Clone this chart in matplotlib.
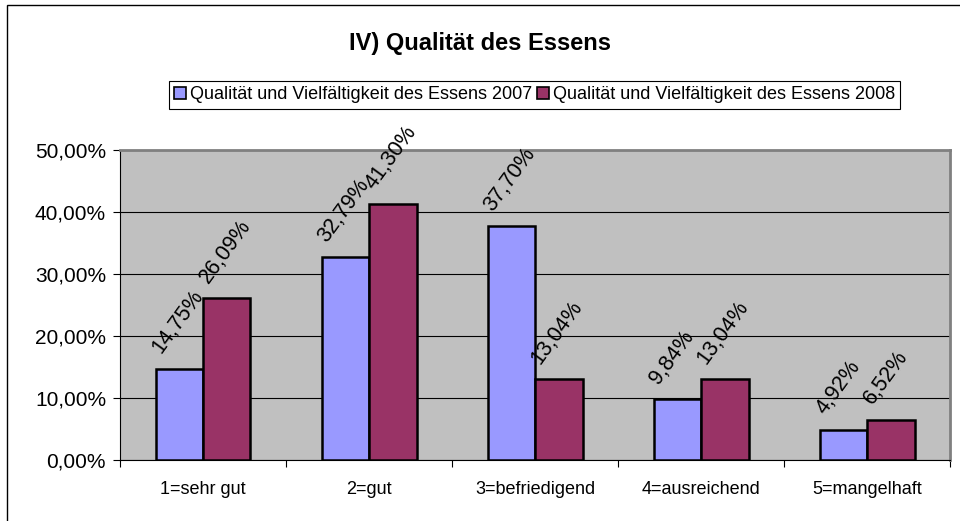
import numpy as np
import matplotlib
matplotlib.use("Agg")
import matplotlib.pyplot as plt
from matplotlib.patches import Rectangle

plt.rcParams['font.family'] = ['Liberation Sans', 'DejaVu Sans']

categories = ["1=sehr gut", "2=gut", "3=befriedigend", "4=ausreichend", "5=mangelhaft"]
werte_2007 = [14.75, 32.79, 37.70, 9.84, 4.92]
werte_2008 = [26.09, 41.30, 13.04, 13.04, 6.52]
serien = ["Qualität und Vielfältigkeit des Essens 2007",
          "Qualität und Vielfältigkeit des Essens 2008"]
farben = ["#9999FF", "#993366"]

fig = plt.figure(figsize=(9.6, 5.21), dpi=100)
# chart frame, cut off at right and bottom like the screenshot
fig.patches.append(Rectangle((0.0073, -0.05), 1.2, 1.0404, transform=fig.transFigure,
                             fill=False, edgecolor="black", linewidth=1))
ax = fig.add_axes([0.125, 0.117, 0.865, 0.595])
ax.set_facecolor("#C0C0C0")

x = np.arange(len(categories))
w = 1 / 3.5
b1 = ax.bar(x - w / 2, werte_2007, w, color=farben[0], edgecolor="black", linewidth=1.8,
            label=serien[0], zorder=3)
b2 = ax.bar(x + w / 2, werte_2008, w, color=farben[1], edgecolor="black", linewidth=1.8,
            label=serien[1], zorder=3)

for bars, vals in [(b1, werte_2007), (b2, werte_2008)]:
    for rect, v in zip(bars, vals):
        ax.annotate(f"{v:.2f}%".replace(".", ","),
                    (rect.get_x() + rect.get_width() / 2, v),
                    xytext=(-13.5, 10), textcoords="offset points",
                    rotation=54, rotation_mode="anchor", ha="left", va="baseline",
                    fontsize=15.5, zorder=4, annotation_clip=False)

ax.set_xlim(-0.5, len(categories) - 0.5)
ax.set_ylim(0, 50)
ax.set_yticks(range(0, 51, 10))
ax.set_yticklabels([f"{t},00%" for t in range(0, 51, 10)], fontsize=15)
ax.yaxis.grid(True, color="black", linewidth=0.8, zorder=1)
ax.set_xticks(np.arange(len(categories) + 1) - 0.5, minor=False)
ax.set_xticklabels([])
ax.set_xticks(x, minor=True)
ax.set_xticklabels(categories, minor=True, fontsize=13)
ax.tick_params(axis="x", which="minor", length=0, pad=15)
ax.tick_params(axis="x", which="major", length=5, direction="out")
ax.tick_params(axis="y", length=5, direction="out", pad=5)
for s in ["top", "right"]:
    ax.spines[s].set_color("#808080")
    ax.spines[s].set_linewidth(2)
for s in ["left", "bottom"]:
    ax.spines[s].set_color("black")

fig.text(0.5, 0.917, "IV) Qualität des Essens", ha="center", va="center",
         fontsize=17, fontweight="bold")
leg = fig.legend(loc="center", bbox_to_anchor=(0.557, 0.818), ncol=2, fontsize=13,
                 frameon=True, fancybox=False, edgecolor="black", framealpha=1,
                 handlelength=0.65, handleheight=0.65, handletextpad=0.2,
                 columnspacing=0.3, borderpad=0.3, borderaxespad=0)
leg.get_frame().set_linewidth(0.8)
for h in leg.legend_handles:
    h.set_edgecolor("black")
    h.set_linewidth(1.2)

fig.savefig("out.png", dpi=100)
